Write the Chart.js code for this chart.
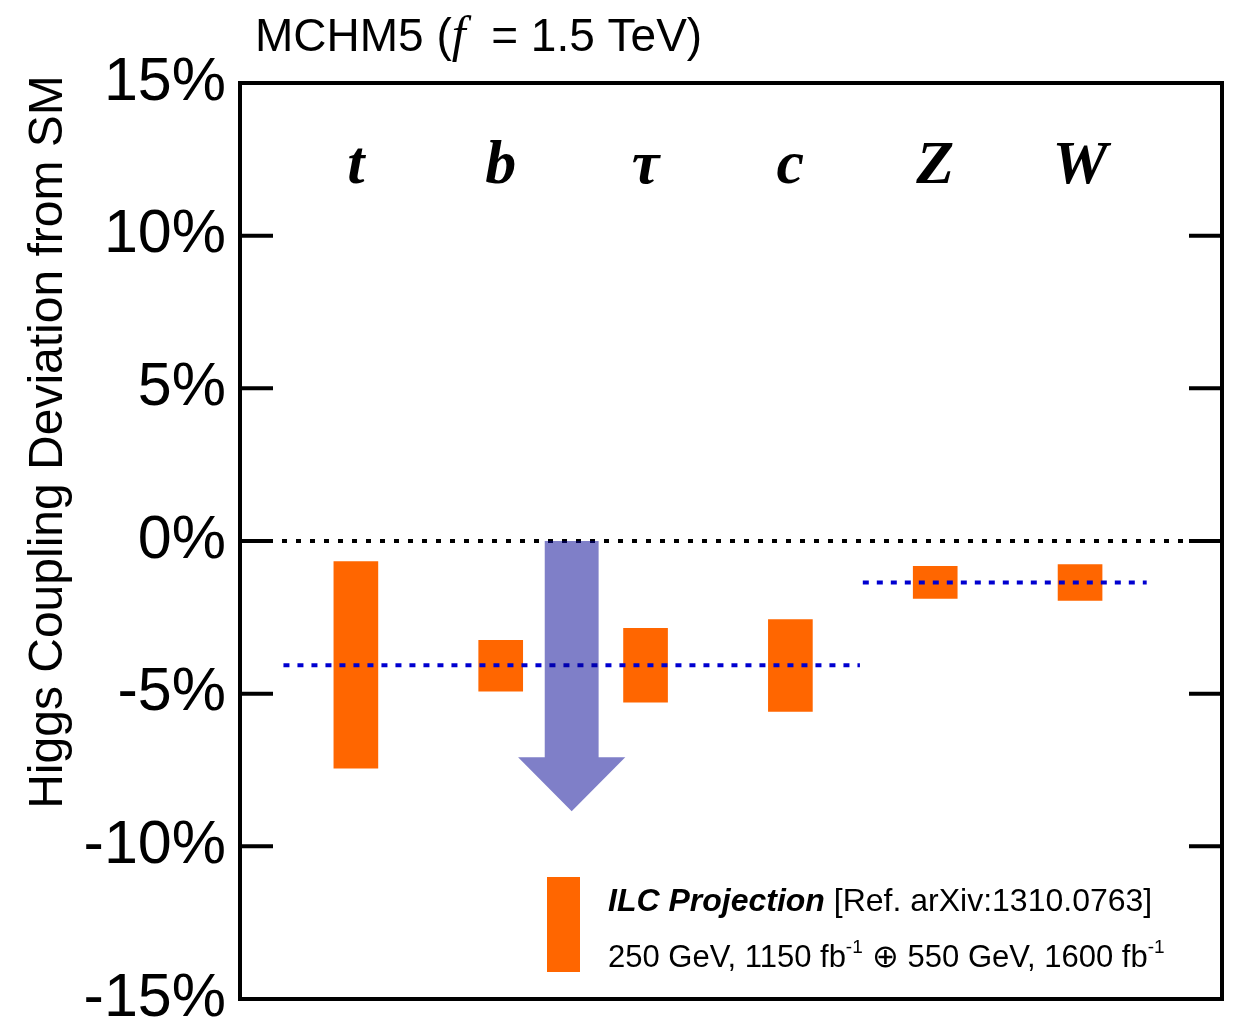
<!DOCTYPE html>
<html>
<head>
<meta charset="utf-8">
<script src="https://cdn.jsdelivr.net/npm/chart.js@4"></script>
<style>
  body { margin: 0; background: #fff; }
</style>
</head>
<body>
<canvas id="myChart" width="1239" height="1025"></canvas>
<script>
// couplings and their ILC projected ranges (in % deviation from SM)
const categories = ['t', 'b', 'τ', 'c', 'Z', 'W'];
const catX = [0.8, 1.8, 2.8, 3.8, 4.8, 5.8];
const lowVals = [-7.44, -4.92, -5.28, -5.58, -1.88, -1.95];
const highVals = [-0.67, -3.25, -2.86, -2.57, -0.83, -0.77];

// MCHM5 predictions (blue dotted lines)
const predLevels = [-4.07, -1.36];
const predFrom = [0.30, 4.30];
const predTo = [4.28, 6.26];

// upper limit arrow
const arrowX = 2.29;
const arrowStart = 0;
const arrowHeadBase = -7.08;
const arrowTip = -8.85;

const yTicks = [-15, -10, -5, 0, 5, 10, 15];
const xMax = 6.78;

const sans = "'Liberation Sans', Arial, Helvetica, sans-serif";
const serif = "'Liberation Serif', 'Times New Roman', serif";

const barData = categories.map((c, i) => ({ x: catX[i], y: [lowVals[i], highVals[i]] }));

const datasets = [{
    type: 'bar',
    label: 'ILC Projection',
    data: barData,
    backgroundColor: '#ff6600',
    borderWidth: 0,
    barThickness: 44,
    order: 3,
}];

predLevels.forEach((lv, i) => {
    datasets.push({
        type: 'line',
        label: 'MCHM5 ' + i,
        data: [{ x: predFrom[i], y: lv }, { x: predTo[i], y: lv }],
        borderColor: '#0000d0',
        borderWidth: 4,
        borderDash: [6, 8],
        pointRadius: 0,
        order: 1,
    });
});

datasets.push({
    type: 'line',
    label: 'SM',
    data: [{ x: 0, y: 0 }, { x: xMax, y: 0 }],
    borderColor: '#000',
    borderWidth: 4,
    borderDash: [5, 9],
    pointRadius: 0,
    order: 2,
});

function drawRuns(ctx, x, y, runs) {
    runs.forEach(r => {
        ctx.font = r.font;
        ctx.fillText(r.text, x, y + (r.dy || 0));
        x += ctx.measureText(r.text).width;
    });
}

const decor = {
    id: 'decor',
    beforeDraw(chart) {
        const ctx = chart.ctx;
        ctx.save();
        ctx.fillStyle = '#fff';
        ctx.fillRect(0, 0, chart.width, chart.height);
        ctx.restore();
    },
    afterDatasetsDraw(chart) {
        const { ctx, chartArea: a, scales: { x, y } } = chart;
        ctx.save();

        // translucent arrow
        const cx = x.getPixelForValue(arrowX);
        const unit = x.getPixelForValue(1) - x.getPixelForValue(0);
        const shaft = 0.186 * unit, head = 0.37 * unit;
        const y0 = y.getPixelForValue(arrowStart);
        const yb = y.getPixelForValue(arrowHeadBase);
        const yt = y.getPixelForValue(arrowTip);
        ctx.fillStyle = 'rgba(0, 0, 145, 0.5)';
        ctx.beginPath();
        ctx.moveTo(cx - shaft, y0);
        ctx.lineTo(cx + shaft, y0);
        ctx.lineTo(cx + shaft, yb);
        ctx.lineTo(cx + head, yb);
        ctx.lineTo(cx, yt);
        ctx.lineTo(cx - head, yb);
        ctx.lineTo(cx - shaft, yb);
        ctx.closePath();
        ctx.fill();

        // frame and inward ticks
        ctx.strokeStyle = '#000';
        ctx.lineWidth = 4;
        ctx.strokeRect(a.left, a.top, a.right - a.left, a.bottom - a.top);
        yTicks.forEach(t => {
            const py = y.getPixelForValue(t);
            ctx.beginPath();
            ctx.moveTo(a.left, py);
            ctx.lineTo(a.left + 33, py);
            ctx.moveTo(a.right - 33, py);
            ctx.lineTo(a.right, py);
            ctx.stroke();
        });

        // coupling labels
        ctx.fillStyle = '#000';
        ctx.textAlign = 'center';
        ctx.textBaseline = 'alphabetic';
        ctx.font = 'bold italic 62px ' + serif;
        categories.forEach((c, i) => {
            ctx.fillText(c, x.getPixelForValue(catX[i]), 183);
        });

        // legend
        ctx.fillStyle = '#ff6600';
        ctx.fillRect(547, 877, 33, 95);
        ctx.fillStyle = '#000';
        ctx.textAlign = 'left';
        drawRuns(ctx, 608, 911, [
            { text: 'ILC Projection', font: 'bold italic 32px ' + sans },
            { text: ' [Ref. arXiv:1310.0763]', font: '32px ' + sans },
        ]);
        drawRuns(ctx, 608, 967, [
            { text: '250 GeV, 1150 fb', font: '31px ' + sans },
            { text: '-1', font: '19px ' + sans, dy: -14 },
            { text: ' \u2295 ', font: '32px ' + sans },
            { text: '550 GeV, 1600 fb', font: '31px ' + sans },
            { text: '-1', font: '19px ' + sans, dy: -14 },
        ]);
        ctx.restore();
    },
    afterDraw(chart) {
        const ctx = chart.ctx;
        ctx.save();
        ctx.fillStyle = '#000';
        ctx.textBaseline = 'alphabetic';
        ctx.textAlign = 'left';
        drawRuns(ctx, 255, 51, [
            { text: 'MCHM5 (', font: '46px ' + sans },
            { text: 'f', font: 'italic 50px ' + serif },
            { text: '  = 1.5 TeV)', font: '46px ' + sans },
        ]);

        ctx.translate(62, 442);
        ctx.rotate(-Math.PI / 2);
        ctx.textAlign = 'center';
        ctx.font = '48px ' + sans;
        ctx.fillText('Higgs Coupling Deviation from SM', 0, 0);
        ctx.restore();
    }
};

new Chart(document.getElementById('myChart'), {
    type: 'bar',
    data: { datasets: datasets },
    options: {
        responsive: false,
        animation: false,
        layout: { padding: { top: 83, right: 17, bottom: 26, left: 0 } },
        plugins: {
            legend: { display: false },
            tooltip: { enabled: false },
        },
        scales: {
            x: {
                type: 'linear',
                min: 0,
                max: xMax,
                offset: false,
                display: false,
            },
            y: {
                min: -15,
                max: 15,
                grid: { display: false, drawTicks: false },
                border: { display: false },
                afterFit: s => {
                    s.width = 240;
                    s.paddingTop = 0;
                    s.paddingBottom = 0;
                },
                afterBuildTicks: s => {
                    s.ticks = yTicks.map(v => ({ value: v }));
                },
                ticks: {
                    padding: 14,
                    color: '#000',
                    font: { family: sans, size: 61 },
                    callback: v => v + '%',
                },
            },
        },
    },
    plugins: [decor],
});
</script>
</body>
</html>
